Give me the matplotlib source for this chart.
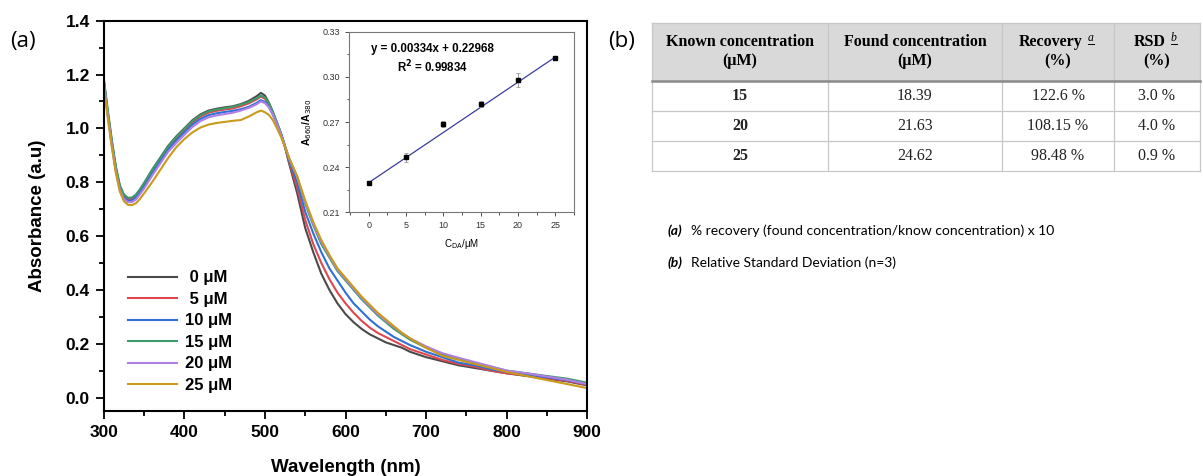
import matplotlib
matplotlib.use("Agg")
import matplotlib.pyplot as plt
from matplotlib.patches import Rectangle
from matplotlib.ticker import MultipleLocator

# ---------------- UV-vis spectra ----------------
wavelength = [300, 305, 310, 315, 320, 325, 330, 335, 340, 345, 350, 360, 370, 380, 390,
              400, 410, 420, 430, 440, 450, 460, 470, 480, 490, 495, 500, 505, 510,
              515, 520, 525, 530, 540, 550, 560, 570, 580, 590, 600, 610, 620, 630,
              640, 650, 660, 670, 680, 700, 720, 740, 760, 780, 800, 825, 850, 875, 900]

abs_0uM = [1.18, 1.06, 0.95, 0.855, 0.785, 0.752, 0.740, 0.741, 0.752, 0.772, 0.795, 0.845,
           0.890, 0.935, 0.970, 1.000, 1.030, 1.052, 1.066, 1.073, 1.078, 1.082, 1.090,
           1.102, 1.120, 1.132, 1.122, 1.095, 1.060, 1.020, 0.980, 0.930, 0.870, 0.760,
           0.630, 0.540, 0.460, 0.400, 0.350, 0.310, 0.280, 0.255, 0.235, 0.220, 0.205,
           0.195, 0.185, 0.170, 0.150, 0.135, 0.120, 0.110, 0.100, 0.090, 0.080, 0.070,
           0.060, 0.045]

abs_5uM = [1.18, 1.06, 0.95, 0.852, 0.782, 0.748, 0.736, 0.737, 0.748, 0.768, 0.790, 0.840,
           0.885, 0.930, 0.963, 0.993, 1.022, 1.044, 1.058, 1.065, 1.070, 1.074, 1.082,
           1.093, 1.108, 1.118, 1.110, 1.088, 1.055, 1.018, 0.978, 0.930, 0.875, 0.780,
           0.660, 0.570, 0.500, 0.440, 0.390, 0.350, 0.315, 0.285, 0.260, 0.240, 0.225,
           0.210, 0.195, 0.180, 0.160, 0.140, 0.125, 0.115, 0.100, 0.090, 0.082, 0.072,
           0.062, 0.047]

abs_10uM = [1.17, 1.05, 0.94, 0.846, 0.777, 0.743, 0.731, 0.732, 0.743, 0.762, 0.784, 0.833,
            0.878, 0.922, 0.955, 0.985, 1.014, 1.035, 1.049, 1.056, 1.061, 1.065, 1.071,
            1.080, 1.095, 1.105, 1.098, 1.080, 1.050, 1.015, 0.978, 0.932, 0.880, 0.800,
            0.690, 0.610, 0.540, 0.480, 0.435, 0.390, 0.350, 0.320, 0.290, 0.265, 0.245,
            0.225, 0.210, 0.195, 0.170, 0.150, 0.130, 0.120, 0.105, 0.095, 0.085, 0.075,
            0.065, 0.050]

abs_15uM = [1.19, 1.07, 0.96, 0.860, 0.789, 0.755, 0.742, 0.743, 0.754, 0.774, 0.797, 0.846,
            0.890, 0.934, 0.968, 0.998, 1.027, 1.049, 1.063, 1.070, 1.075, 1.080, 1.088,
            1.098, 1.112, 1.122, 1.115, 1.093, 1.060, 1.022, 0.982, 0.935, 0.890, 0.820,
            0.720, 0.640, 0.570, 0.520, 0.470, 0.435, 0.400, 0.365, 0.335, 0.305, 0.280,
            0.255, 0.235, 0.215, 0.185, 0.160, 0.145, 0.130, 0.115, 0.100, 0.090, 0.080,
            0.070, 0.055]

abs_20uM = [1.17, 1.05, 0.94, 0.842, 0.772, 0.738, 0.726, 0.726, 0.736, 0.755, 0.776, 0.824,
            0.869, 0.913, 0.946, 0.976, 1.005, 1.027, 1.041, 1.048, 1.053, 1.058, 1.066,
            1.076, 1.090, 1.100, 1.094, 1.078, 1.050, 1.015, 0.978, 0.933, 0.888, 0.820,
            0.725, 0.645, 0.578, 0.525, 0.475, 0.440, 0.405, 0.370, 0.340, 0.310, 0.285,
            0.262, 0.240, 0.220, 0.190, 0.165, 0.148, 0.132, 0.116, 0.100, 0.090, 0.078,
            0.066, 0.050]

abs_25uM = [1.16, 1.04, 0.93, 0.835, 0.765, 0.730, 0.716, 0.715, 0.722, 0.738, 0.758, 0.800,
            0.845, 0.890, 0.930, 0.960, 0.985, 1.003, 1.014, 1.020, 1.024, 1.028, 1.031,
            1.044, 1.060, 1.066, 1.060, 1.050, 1.030, 1.000, 0.968, 0.930, 0.890, 0.822,
            0.732, 0.652, 0.585, 0.530, 0.480, 0.445, 0.410, 0.375, 0.345, 0.315, 0.290,
            0.265, 0.240, 0.220, 0.185, 0.155, 0.140, 0.125, 0.110, 0.095, 0.080, 0.065,
            0.050, 0.035]

spectra = [abs_0uM, abs_5uM, abs_10uM, abs_15uM, abs_20uM, abs_25uM]
labels = [" 0 μM", " 5 μM", "10 μM", "15 μM", "20 μM", "25 μM"]
colors = ["#4a4a4a", "#e0474c", "#2f6fd6", "#3d9a6a", "#b07fe6", "#c99a1c"]

# ---------------- calibration (inset) ----------------
c_da = [0, 5, 10, 15, 20, 25]
ratio = [0.2295, 0.2465, 0.2687, 0.2820, 0.2979, 0.3125]
ratio_err = [0.0005, 0.0030, 0.0020, 0.0020, 0.0045, 0.0008]
slope, intercept = 0.00334, 0.22968

# ---------------- recovery table ----------------
col_headers = [["Known concentration", "(μM)"], ["Found concentration", "(μM)"],
               ["Recovery", "(%)"], ["RSD", "(%)"]]
header_marks = ["", "", "a", "b"]
known = ["15", "20", "25"]
found = ["18.39", "21.63", "24.62"]
recovery = ["122.6 %", "108.15 %", "98.48 %"]
rsd = ["3.0 %", "4.0 %", "0.9 %"]
notes = [("(a)", "% recovery (found concentration/know concentration) x 10"),
         ("(b)", "Relative Standard Deviation (n=3)")]

W, H = 1203, 476
fig = plt.figure(figsize=(W / 100, H / 100), dpi=100)
plt.rcParams["font.family"] = ["Liberation Sans", "DejaVu Sans"]

# main spectra axes
ax = fig.add_axes([103.7 / W, 1 - 411 / H, (587.3 - 103.7) / W, (411 - 20.7) / H])
for y, lab, col in zip(spectra, labels, colors):
    ax.plot(wavelength, y, color=col, lw=1.5, label=lab)
ax.set_xlim(300, 900)
ax.set_ylim(-0.05, 1.4)
ax.xaxis.set_major_locator(MultipleLocator(100))
ax.xaxis.set_minor_locator(MultipleLocator(50))
ax.yaxis.set_major_locator(MultipleLocator(0.2))
ax.yaxis.set_minor_locator(MultipleLocator(0.1))
ax.tick_params(which="both", direction="out", top=False, right=False, width=1.3)
ax.tick_params(which="major", length=6, labelsize=12.5, pad=4)
ax.tick_params(which="minor", length=3.5)
for lbl in ax.get_xticklabels() + ax.get_yticklabels():
    lbl.set_fontweight("bold")
for s in ax.spines.values():
    s.set_linewidth(1.5)
ax.set_xlabel("Wavelength (nm)", fontsize=13.5, fontweight="bold", labelpad=14)
ax.set_ylabel("Absorbance (a.u)", fontsize=13.5, fontweight="bold", labelpad=14)
leg = ax.legend(loc="lower left", bbox_to_anchor=(0.02, 0.008), frameon=False,
                handlelength=2.9, handletextpad=0.5, labelspacing=0.39,
                prop={"weight": "bold", "size": 12})

# inset calibration axes
ax_in = fig.add_axes([349.3 / W, 1 - 212.3 / H, (574 - 349.3) / W, (212.3 - 31.7) / H])
fit_x = [c_da[0], c_da[-1]]
fit_y = [slope * v + intercept for v in fit_x]
ax_in.plot(fit_x, fit_y, color="#3b3b9e", lw=0.9)
ax_in.errorbar(c_da, ratio, yerr=ratio_err, fmt="s", color="black", ms=3.5,
               ecolor="#999999", elinewidth=0.7, capsize=1.5, capthick=0.6)
ax_in.set_xlim(-2.6, 27.5)
ax_in.set_ylim(0.21, 0.33)
ax_in.xaxis.set_major_locator(MultipleLocator(5))
ax_in.xaxis.set_minor_locator(MultipleLocator(2.5))
ax_in.yaxis.set_major_locator(MultipleLocator(0.03))
ax_in.yaxis.set_minor_locator(MultipleLocator(0.015))
ax_in.yaxis.set_major_formatter(plt.FuncFormatter(lambda v, p: f"{v:.2f}"))
ax_in.tick_params(which="both", direction="out", top=False, right=False,
                  width=0.6, colors="#333333", labelsize=6.5)
ax_in.tick_params(which="major", length=3)
ax_in.tick_params(which="minor", length=1.8)
for s in ax_in.spines.values():
    s.set_linewidth(0.8)
    s.set_color("#777777")
ax_in.set_xlabel("C$_{\\mathrm{DA}}$/μM", fontsize=7, labelpad=5)
ax_in.set_ylabel("A$_{\\mathrm{660}}$/A$_{\\mathrm{380}}$", fontsize=7.5, fontweight="bold",
                 labelpad=6)
ax_in.text(0.37, 0.905, f"y = {slope:.5f}x + {intercept:.5f}", transform=ax_in.transAxes,
           ha="center", va="center", fontsize=8.3, fontweight="bold")
ax_in.text(0.37, 0.805, "R$^{\\mathbf{2}}$ = 0.99834", transform=ax_in.transAxes,
           ha="center", va="center", fontsize=8.3, fontweight="bold")

# panel labels
fig.text(10 / W, 1 - 42 / H, "(a)", fontsize=16, family=["Open Sans", "DejaVu Sans"],
         va="center", ha="left")
fig.text(608 / W, 1 - 42 / H, "(b)", fontsize=16, family=["Open Sans", "DejaVu Sans"],
         va="center", ha="left")

# recovery table, drawn in pixel coordinates
tb = fig.add_axes([0, 0, 1, 1], zorder=-1)
tb.set_xlim(0, W)
tb.set_ylim(H, 0)
tb.axis("off")
col_edges = [652, 828, 1002, 1114, 1200]
row_edges = [23, 81, 111, 141, 171]
serif = ["Liberation Serif", "DejaVu Serif"]
tb.add_patch(Rectangle((col_edges[0], row_edges[0]), col_edges[-1] - col_edges[0],
                       row_edges[1] - row_edges[0], facecolor="#d9d9d9", edgecolor="none"))
grid_col = "#c8c8c8"
for xe in col_edges:
    tb.plot([xe, xe], [row_edges[0], row_edges[-1]], color=grid_col, lw=0.9)
for i, ye in enumerate(row_edges):
    if i == 1:
        tb.plot([col_edges[0], col_edges[-1]], [ye, ye], color="#8a8a8a", lw=1.8)
    else:
        tb.plot([col_edges[0], col_edges[-1]], [ye, ye], color=grid_col, lw=0.9)
fig.canvas.draw()
for j, (hdr, mark) in enumerate(zip(col_headers, header_marks)):
    xc = (col_edges[j] + col_edges[j + 1]) / 2
    shift = -7 if mark else 0
    t = tb.text(xc + shift, 42, hdr[0], ha="center", va="center", fontsize=11.5,
                fontweight="bold", family=serif)
    tb.text(xc, 61, hdr[1], ha="center", va="center", fontsize=11.5,
            fontweight="bold", family=serif)
    if mark:
        fig.canvas.draw()
        bb = t.get_window_extent()
        xr = bb.x1 + 5
        tb.text(xr, 38, mark, ha="left", va="center", fontsize=8.5, style="italic",
                family=serif)
        tb.plot([xr, xr + 6], [44, 44], color="black", lw=0.7)
body_cols = [known, found, recovery, rsd]
for j, col in enumerate(body_cols):
    xc = (col_edges[j] + col_edges[j + 1]) / 2
    for i, val in enumerate(col):
        yc = (row_edges[i + 1] + row_edges[i + 2]) / 2
        tb.text(xc, yc, val, ha="center", va="center", fontsize=11.5, family=serif,
                fontweight="bold" if j == 0 else "normal", color="#222222")

# footnotes
for k, (tag, txt) in enumerate(notes):
    yk = 231 + 32 * k
    tb.text(668, yk, tag, ha="left", va="center", fontsize=10, fontweight="bold",
            style="italic", family=["Lato", "DejaVu Sans"])
    tb.text(691, yk, txt, ha="left", va="center", fontsize=10,
            family=["Lato", "DejaVu Sans"])

fig.savefig("out.png", dpi=100)
